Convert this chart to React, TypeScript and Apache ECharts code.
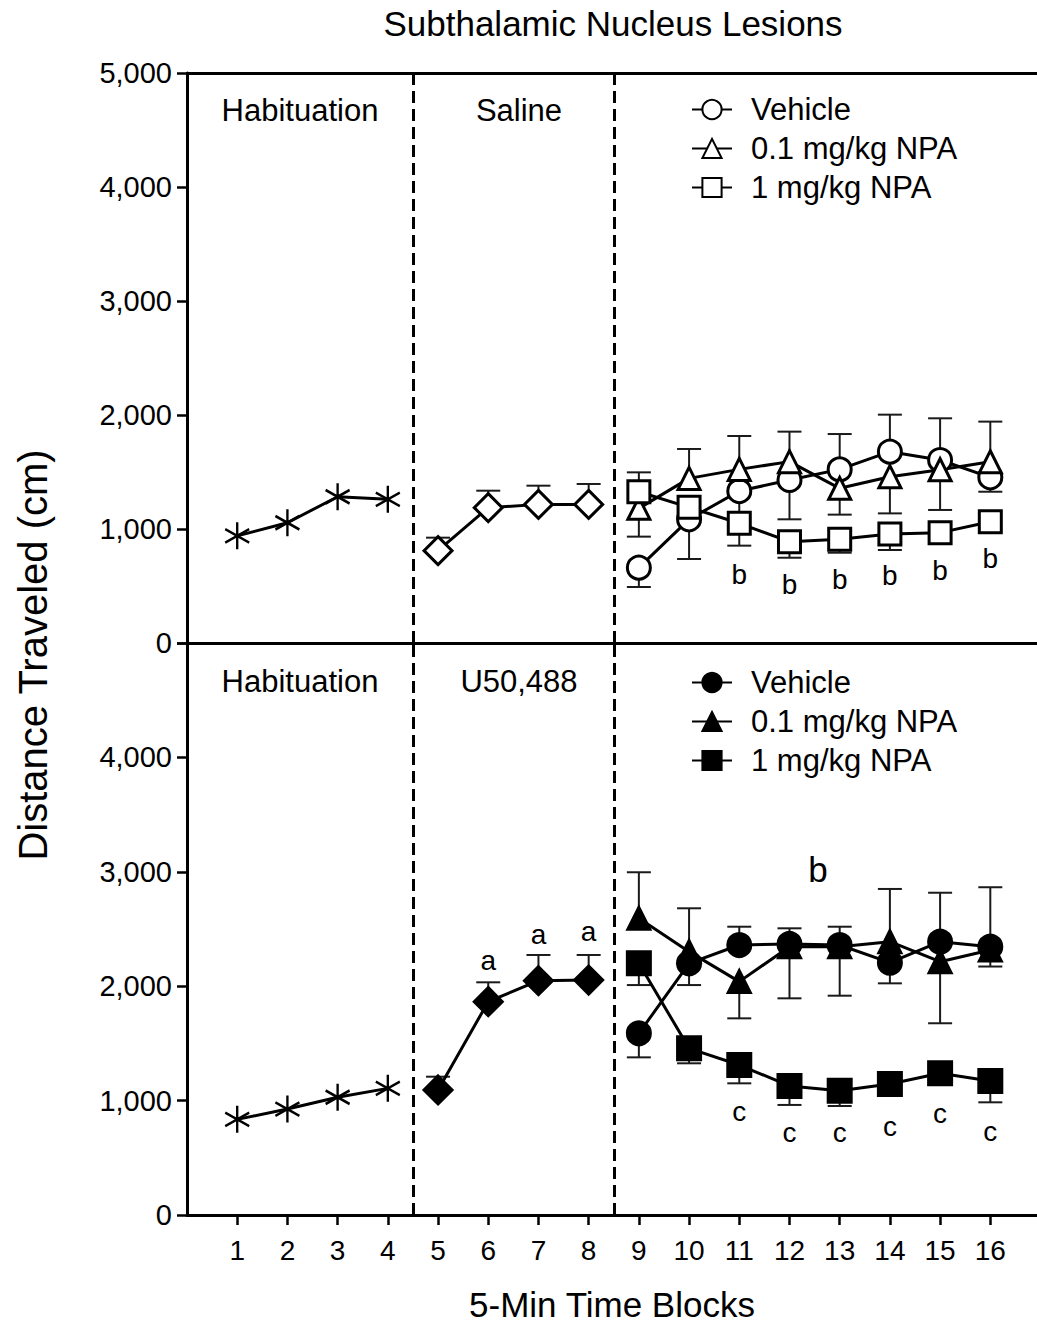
import React, { useEffect, useRef } from 'react';
import * as echarts from 'echarts';

const FONT = "'Liberation Sans', Arial, Helvetica, sans-serif";

// ---------- axes / categories ----------
const xTickValues = [1, 2, 3, 4, 5, 6, 7, 8, 9, 10, 11, 12, 13, 14, 15, 16];
const phaseDividers = [4.5, 8.5];
const habituationBlocks = [1, 2, 3, 4];
const injectionBlocks = [5, 6, 7, 8];
const testBlocks = [9, 10, 11, 12, 13, 14, 15, 16];

// ---------- top panel (Saline) ----------
const topHabituation = [940, 1055, 1283, 1260];
const salineMean = [810, 1187, 1216, 1216];
const salineErrEnd = [924, 1336, 1380, 1395];
const topVehicleMean = [661, 1085, 1333, 1430, 1523, 1678, 1605, 1453];
const topVehicleErrEnd = [491, 737, 1000, 1085, 1126, 1137, 1167, 1327];
const topLowNpaMean = [1181, 1444, 1523, 1591, 1357, 1459, 1520, 1590];
const topLowNpaErrEnd = [933, 1702, 1816, 1854, 1833, 2003, 1971, 1942];
const topHighNpaMean = [1327, 1190, 1050, 889, 910, 956, 968, 1064];
const topHighNpaErrEnd = [1497, null, 854, 748, 792, 816, null, null];
const topLetterBlocks = [11, 12, 13, 14, 15, 16];
const topLetterY = [605, 509, 561, 588, 632, 737];
const topLetters = ['b', 'b', 'b', 'b', 'b', 'b'];

// ---------- bottom panel (U50,488) ----------
const bottomHabituation = [836, 926, 1029, 1107];
const u50Mean = [1093, 1865, 2048, 2054];
const u50ErrEnd = [1209, 2034, 2273, 2273];
const bottomVehicleMean = [1588, 2200, 2360, 2369, 2360, 2206, 2389, 2345];
const bottomVehicleErrEnd = [1378, 2010, 2520, 2506, 2520, 2025, 2817, 2172];
const bottomLowNpaMean = [2593, 2302, 2040, 2345, 2345, 2389, 2214, 2316];
const bottomLowNpaErrEnd = [2996, 2681, 1719, 1894, 1917, 2850, 1676, 2865];
const bottomHighNpaMean = [2200, 1457, 1311, 1128, 1087, 1145, 1239, 1171];
const bottomHighNpaErrEnd = [2010, 1326, 1151, 962, 953, null, null, 985];
const aLetterBlocks = [6, 7, 8];
const aLetterY = [2229, 2448, 2474];
const aLetters = ['a', 'a', 'a'];
const cLetterBlocks = [11, 12, 13, 14, 15, 16];
const cLetterY = [903, 719, 719, 772, 889, 734];
const cLetters = ['c', 'c', 'c', 'c', 'c', 'c'];
const bigLetterBlock = [12.57];
const bigLetterY = [3024];
const bigLetter = ['b'];

const legendNames = ['Vehicle', '0.1 mg/kg NPA', '1 mg/kg NPA'];
const BOTTOM_SUFFIX = ' \u00b7 U50,488';

const ASTERISK = 'path://M87,0L87,200M0,50L174,150M0,150L174,50';

const pts = (xs: number[], ys: number[]) => xs.map((x, i) => [x, ys[i]]);
const errPts = (xs: number[], mean: number[], end: (number | null)[]) =>
  xs
    .map((x, i) => (end[i] == null ? null : [x, mean[i], end[i]]))
    .filter((d) => d !== null);

function lineSeries(
  name: string,
  data: number[][],
  symbol: string,
  size: number | number[],
  filled: boolean,
  grid: number,
  asterisk = false
) {
  return {
    type: 'line',
    name,
    data,
    xAxisIndex: grid === 0 ? 0 : 2,
    yAxisIndex: grid,
    symbol,
    symbolSize: size,
    showAllSymbol: true,
    z: 4,
    lineStyle: { color: '#000', width: 3 },
    itemStyle: asterisk
      ? { color: 'rgba(0,0,0,0)', borderColor: '#000', borderWidth: 2.5 }
      : { color: filled ? '#000' : '#fff', borderColor: '#000', borderWidth: 3 },
    emphasis: { disabled: true },
  };
}

function errSeries(data: any[], grid: number) {
  return {
    type: 'custom',
    xAxisIndex: grid === 0 ? 0 : 2,
    yAxisIndex: grid,
    z: 2,
    silent: true,
    encode: { x: 0, y: [1, 2] },
    data,
    renderItem: (params: any, api: any) => {
      const x = api.value(0);
      const p0 = api.coord([x, api.value(1)]);
      const p1 = api.coord([x, api.value(2)]);
      const hw = 12;
      const st = { stroke: '#1a1a1a', lineWidth: 2 };
      return {
        type: 'group',
        children: [
          { type: 'line', shape: { x1: p0[0], y1: p0[1], x2: p1[0], y2: p1[1] }, style: st },
          { type: 'line', shape: { x1: p1[0] - hw, y1: p1[1], x2: p1[0] + hw, y2: p1[1] }, style: st },
        ],
      };
    },
  };
}

function letterSeries(xs: number[], ys: number[], letters: string[], grid: number, size = 28) {
  return {
    type: 'custom',
    xAxisIndex: grid === 0 ? 0 : 2,
    yAxisIndex: grid,
    z: 6,
    silent: true,
    encode: { x: 0, y: 1 },
    data: xs.map((x, i) => [x, ys[i], i]),
    renderItem: (params: any, api: any) => {
      const p = api.coord([api.value(0), api.value(1)]);
      const letter = letters[api.value(2)];
      return {
        type: 'text',
        x: p[0],
        y: p[1],
        style: {
          text: letter,
          fontSize: size,
          fontFamily: FONT,
          fill: '#000',
          align: 'center',
          verticalAlign: 'middle',
        },
      };
    },
  };
}

function dividerSeries(grid: number) {
  return {
    type: 'line',
    xAxisIndex: grid === 0 ? 0 : 2,
    yAxisIndex: grid,
    data: [],
    z: 1,
    markLine: {
      silent: true,
      symbol: 'none',
      label: { show: false },
      lineStyle: { color: '#000', width: 3, type: [12, 6] },
      data: phaseDividers.map((v) => ({ xAxis: v })),
    },
  };
}

const fmt = (v: number) => v.toLocaleString('en-US');

export default function App() {
  const ref = useRef<HTMLDivElement>(null);

  useEffect(() => {
    if (!ref.current) return;
    const chart = echarts.init(ref.current, undefined, { renderer: 'svg' });
    const axisLine = { show: true, lineStyle: { color: '#000', width: 3 } };
    const yCommon = {
      type: 'value',
      min: 0,
      max: 5000,
      interval: 1000,
      axisLine,
      splitLine: { show: false },
      axisTick: { show: true, inside: false, length: 10, lineStyle: { color: '#000', width: 2.5 } },
    };
    const legendCommon = {
      orient: 'vertical',
      left: 686,
      itemWidth: 40,
      itemHeight: 24,
      itemGap: 8,
      selectedMode: false,
      textStyle: { fontSize: 31, fontFamily: FONT, color: '#000', lineHeight: 31, padding: [0, 0, 0, 14] },
      formatter: (n: string) => n.split(BOTTOM_SUFFIX)[0],
    };
    const textEl = (text: string, x: number, y: number, size: number, extra: any = {}) => ({
      type: 'text',
      x,
      y,
      silent: true,
      ...extra,
      style: { text, fontSize: size, fontFamily: FONT, fill: '#000', align: 'center', verticalAlign: 'middle' },
    });

    const option: any = {
      animation: false,
      backgroundColor: '#fff',
      grid: [
        { left: 187, top: 73, width: 850, height: 570 },
        { left: 187, top: 643, width: 850, height: 572 },
      ],
      xAxis: [
        {
          type: 'value', gridIndex: 0, min: 0, max: 16.93, position: 'bottom',
          axisLine, axisTick: { show: false }, axisLabel: { show: false }, splitLine: { show: false },
        },
        {
          type: 'value', gridIndex: 0, min: 0, max: 16.93, position: 'top',
          axisLine, axisTick: { show: false }, axisLabel: { show: false }, splitLine: { show: false },
        },
        {
          type: 'value', gridIndex: 1, min: 0, max: 16.93, position: 'bottom',
          axisLine,
          splitLine: { show: false },
          axisTick: { show: true, length: 10, customValues: xTickValues, lineStyle: { color: '#000', width: 2.5 } },
          axisLabel: { show: true, customValues: xTickValues, fontSize: 28, fontFamily: FONT, color: '#000', margin: 21 },
          name: '5-Min Time Blocks',
          nameLocation: 'middle',
          nameGap: 72,
          nameTextStyle: { fontSize: 35, fontFamily: FONT, color: '#000' },
        },
      ],
      yAxis: [
        {
          ...yCommon, gridIndex: 0,
          axisLabel: { fontSize: 29, fontFamily: FONT, color: '#000', margin: 15, formatter: fmt },
        },
        {
          ...yCommon, gridIndex: 1,
          axisLabel: {
            fontSize: 29, fontFamily: FONT, color: '#000', margin: 15,
            formatter: (v: number) => (v === 5000 ? '' : fmt(v)),
          },
        },
      ],
      legend: [
        { ...legendCommon, top: 89, data: legendNames },
        { ...legendCommon, top: 662, data: legendNames.map((n) => n + BOTTOM_SUFFIX) },
      ],
      graphic: [
        textEl('Subthalamic Nucleus Lesions', 613, 23, 35),
        textEl('Distance Traveled (cm)', 33, 655, 40, { rotation: Math.PI / 2 }),
        textEl('Habituation', 300, 110, 31),
        textEl('Saline', 519, 110, 31),
        textEl('Habituation', 300, 681, 31),
        textEl('U50,488', 519, 681, 31),
      ],
      series: [
        dividerSeries(0),
        dividerSeries(1),
        // error bars
        errSeries(errPts(injectionBlocks, salineMean, salineErrEnd), 0),
        errSeries(errPts(testBlocks, topVehicleMean, topVehicleErrEnd), 0),
        errSeries(errPts(testBlocks, topLowNpaMean, topLowNpaErrEnd), 0),
        errSeries(errPts(testBlocks, topHighNpaMean, topHighNpaErrEnd), 0),
        errSeries(errPts(injectionBlocks, u50Mean, u50ErrEnd), 1),
        errSeries(errPts(testBlocks, bottomVehicleMean, bottomVehicleErrEnd), 1),
        errSeries(errPts(testBlocks, bottomLowNpaMean, bottomLowNpaErrEnd), 1),
        errSeries(errPts(testBlocks, bottomHighNpaMean, bottomHighNpaErrEnd), 1),
        // top panel lines
        lineSeries('Habituation (top)', pts(habituationBlocks, topHabituation), ASTERISK, [24, 27], false, 0, true),
        lineSeries('Saline', pts(injectionBlocks, salineMean), 'diamond', 28, false, 0),
        lineSeries(legendNames[0], pts(testBlocks, topVehicleMean), 'circle', 23, false, 0),
        lineSeries(legendNames[1], pts(testBlocks, topLowNpaMean), 'triangle', 22, false, 0),
        lineSeries(legendNames[2], pts(testBlocks, topHighNpaMean), 'rect', 22, false, 0),
        // bottom panel lines
        lineSeries('Habituation (bottom)', pts(habituationBlocks, bottomHabituation), ASTERISK, [24, 27], false, 1, true),
        lineSeries('U50,488', pts(injectionBlocks, u50Mean), 'diamond', 28, true, 1),
        lineSeries(legendNames[0] + BOTTOM_SUFFIX, pts(testBlocks, bottomVehicleMean), 'circle', 23, true, 1),
        lineSeries(legendNames[1] + BOTTOM_SUFFIX, pts(testBlocks, bottomLowNpaMean), 'triangle', 22, true, 1),
        lineSeries(legendNames[2] + BOTTOM_SUFFIX, pts(testBlocks, bottomHighNpaMean), 'rect', 23, true, 1),
        // significance letters
        letterSeries(topLetterBlocks, topLetterY, topLetters, 0),
        letterSeries(aLetterBlocks, aLetterY, aLetters, 1),
        letterSeries(cLetterBlocks, cLetterY, cLetters, 1),
        letterSeries(bigLetterBlock, bigLetterY, bigLetter, 1, 35),
      ],
    };
    chart.setOption(option);
    return () => chart.dispose();
  }, []);

  return (
    <div
      ref={ref}
      style={{ position: 'absolute', left: 0, top: 0, width: 1037, height: 1324, background: '#fff' }}
    />
  );
}
